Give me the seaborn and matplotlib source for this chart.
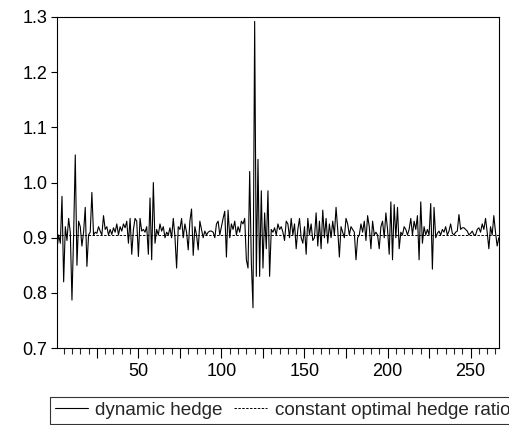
import matplotlib
matplotlib.use('Agg')
import numpy as np
import pandas as pd
import seaborn as sns
import matplotlib.pyplot as plt
from matplotlib.ticker import MultipleLocator, FuncFormatter

dynamic_hedge = [
    0.880, 0.905, 0.890, 0.975, 0.820, 0.920, 0.895, 0.935, 0.910, 0.787,
    0.905, 1.050, 0.850, 0.930, 0.920, 0.885, 0.910, 0.955, 0.848, 0.905,
    0.910, 0.982, 0.905, 0.910, 0.908, 0.920, 0.912, 0.905, 0.940, 0.915,
    0.920, 0.905, 0.915, 0.906, 0.918, 0.910, 0.925, 0.905, 0.920, 0.912,
    0.925, 0.918, 0.930, 0.890, 0.935, 0.870, 0.915, 0.935, 0.930, 0.866,
    0.935, 0.912, 0.915, 0.910, 0.920, 0.870, 0.972, 0.860, 1.000, 0.890,
    0.915, 0.905, 0.925, 0.912, 0.920, 0.900, 0.910, 0.905, 0.918, 0.900,
    0.935, 0.902, 0.845, 0.920, 0.915, 0.935, 0.900, 0.925, 0.910, 0.878,
    0.930, 0.952, 0.868, 0.920, 0.905, 0.878, 0.930, 0.915, 0.900, 0.912,
    0.905, 0.910, 0.912, 0.912, 0.910, 0.900, 0.925, 0.930, 0.905, 0.920,
    0.935, 0.948, 0.865, 0.950, 0.900, 0.925, 0.915, 0.930, 0.905, 0.920,
    0.910, 0.930, 0.925, 0.935, 0.860, 0.845, 1.020, 0.855, 0.773, 1.292,
    0.830, 1.042, 0.830, 0.985, 0.845, 0.945, 0.880, 0.985, 0.830, 0.915,
    0.910, 0.918, 0.905, 0.925, 0.915, 0.920, 0.910, 0.895, 0.930, 0.925,
    0.900, 0.935, 0.905, 0.925, 0.880, 0.915, 0.935, 0.900, 0.890, 0.920,
    0.870, 0.935, 0.905, 0.925, 0.895, 0.900, 0.945, 0.885, 0.930, 0.880,
    0.950, 0.900, 0.935, 0.890, 0.925, 0.900, 0.930, 0.905, 0.955, 0.915,
    0.865, 0.920, 0.910, 0.900, 0.935, 0.925, 0.905, 0.920, 0.915, 0.910,
    0.860, 0.900, 0.905, 0.925, 0.910, 0.930, 0.895, 0.940, 0.920, 0.880,
    0.930, 0.905, 0.910, 0.905, 0.880, 0.920, 0.930, 0.900, 0.945, 0.915,
    0.870, 0.965, 0.860, 0.960, 0.900, 0.955, 0.880, 0.910, 0.905, 0.920,
    0.915, 0.905, 0.915, 0.935, 0.905, 0.930, 0.915, 0.940, 0.860, 0.965,
    0.890, 0.920, 0.905, 0.915, 0.905, 0.962, 0.843, 0.955, 0.900, 0.908,
    0.912, 0.905, 0.915, 0.910, 0.920, 0.905, 0.912, 0.925, 0.908, 0.905,
    0.910, 0.912, 0.942, 0.915, 0.918, 0.918, 0.915, 0.912, 0.905, 0.908,
    0.912, 0.905, 0.905, 0.915, 0.918, 0.910, 0.925, 0.915, 0.935, 0.910,
    0.880, 0.920, 0.905, 0.940, 0.910, 0.885, 0.900,
]
constant_ratio = 0.905
obs = list(range(1, len(dynamic_hedge) + 1))

df = pd.DataFrame({'obs': obs, 'dynamic': dynamic_hedge})
df['constant'] = constant_ratio

sns.set_style('ticks')
plt.rcParams['font.family'] = ['Liberation Sans', 'DejaVu Sans']

fig = plt.figure(figsize=(5.09, 4.25), dpi=100)
ax = fig.add_axes([0.112, 0.181, 0.868, 0.779])

sns.lineplot(data=df, x='obs', y='dynamic', ax=ax, color='black',
             linewidth=0.8, label='dynamic hedge')
sns.lineplot(data=df, x='obs', y='constant', ax=ax, color='black',
             linewidth=0.7, linestyle=(0, (2.5, 1.5)),
             label='constant optimal hedge ratio')

ax.set_xlim(1, 267)
ax.set_ylim(0.7, 1.3)
ax.set_xlabel('')
ax.set_ylabel('')
ax.yaxis.set_major_locator(MultipleLocator(0.1))
ax.yaxis.set_major_formatter(FuncFormatter(lambda v, p: '%.1f' % v))
ax.xaxis.set_major_locator(MultipleLocator(25))
ax.xaxis.set_minor_locator(MultipleLocator(5))
ax.xaxis.set_major_formatter(FuncFormatter(lambda v, p: '%d' % v if v % 50 == 0 else ''))
ax.tick_params(axis='both', labelsize=13, colors='black', direction='out', width=0.8)
ax.tick_params(axis='x', which='major', length=7, pad=4)
ax.tick_params(axis='x', which='minor', length=4, width=0.8)
ax.tick_params(axis='y', length=4, pad=3)
for s in ax.spines.values():
    s.set_visible(True)
    s.set_linewidth(0.8)
    s.set_color('black')

ax.get_legend().remove()
h, l = ax.get_legend_handles_labels()
leg = fig.legend(h, l, loc='lower left', bbox_to_anchor=(0.098, 0.003), ncol=2,
                 fontsize=13.6, frameon=True, fancybox=False, edgecolor='black',
                 handlelength=1.75, handletextpad=0.4, columnspacing=0.6,
                 borderpad=0.25, borderaxespad=0)
leg.get_frame().set_linewidth(0.8)

fig.savefig('out.png', dpi=100)
